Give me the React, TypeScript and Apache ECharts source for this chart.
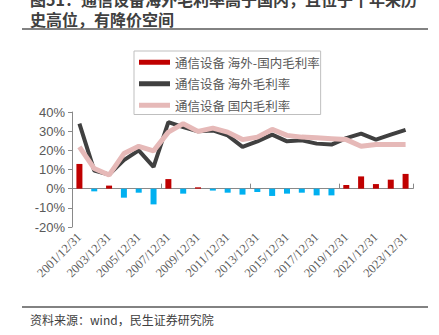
import React, { useEffect, useRef } from "react";
import * as echarts from "echarts";

const categories = [
  "2001/12/31", "2002/12/31", "2003/12/31", "2004/12/31", "2005/12/31", "2006/12/31",
  "2007/12/31", "2008/12/31", "2009/12/31", "2010/12/31", "2011/12/31", "2012/12/31",
  "2013/12/31", "2014/12/31", "2015/12/31", "2016/12/31", "2017/12/31", "2018/12/31",
  "2019/12/31", "2020/12/31", "2021/12/31", "2022/12/31", "2023/12/31",
];
const overseas = [
  33.9, 9.4, 7.4, 14.9, 20.0, 11.4, 34.7, 32.1, 29.9, 30.4, 27.8, 21.8,
  24.7, 28.2, 24.7, 25.2, 23.5, 23.0, 26.4, 28.7, 25.6, 28.2, 30.7,
];
const domestic = [
  21.8, 10.5, 7.1, 18.3, 22.1, 19.7, 29.5, 33.9, 29.9, 31.6, 29.5, 25.6,
  26.9, 30.9, 27.8, 26.9, 26.6, 26.1, 25.6, 22.1, 23.0, 23.0, 23.1,
];
const diff = [
  12.9, -1.4, 1.6, -4.7, -2.1, -8.2, 5.0, -2.6, 0.7, -1.0, -2.1, -3.1,
  -1.7, -3.8, -2.6, -2.1, -3.5, -3.5, 1.9, 6.4, 2.4, 4.7, 7.7,
];
const seriesNames = ["通信设备 海外-国内毛利率", "通信设备 海外毛利率", "通信设备 国内毛利率"];
const titleLines = ["图51：通信设备海外毛利率高于国内，且位于十年来历", "史高位，有降价空间"];
const sourceText = "资料来源：wind，民生证券研究院";

const FONT = "'Noto Sans CJK SC', 'Noto Sans', sans-serif";

export default function App() {
  const ref = useRef<HTMLDivElement>(null);
  useEffect(() => {
    if (!ref.current) return;
    const chart = echarts.init(ref.current, null, { renderer: "svg" });
    chart.setOption({
      animation: false,
      backgroundColor: "#ffffff",
      textStyle: { fontFamily: FONT },
      grid: { left: 72, right: 26, top: 112, bottom: 108, containLabel: false },
      legend: {
        left: 134,
        top: 51,
        orient: "vertical",
        backgroundColor: "#ffffff",
        borderColor: "#bfbfbf",
        borderWidth: 1,
        borderRadius: 0,
        padding: [5, 1, 3, 5],
        itemGap: 9,
        itemWidth: 31,
        itemHeight: 5,
        icon: "rect",
        textStyle: { fontSize: 12.5, color: "#595959", fontFamily: FONT },
        data: seriesNames,
      },
      xAxis: [
        {
          type: "category",
          data: categories,
          boundaryGap: true,
          axisLine: { onZero: true, lineStyle: { color: "#898989", width: 1 } },
          axisTick: { show: true, inside: true, length: 5, lineStyle: { color: "#898989" } },
          axisLabel: { show: false },
          splitLine: { show: false },
        },
        {
          type: "category",
          data: categories,
          position: "bottom",
          boundaryGap: true,
          axisLine: { show: false, onZero: false },
          axisTick: { show: false },
          axisLabel: {
            show: true,
            interval: 1,
            rotate: 45,
            margin: 8,
            fontSize: 12.5,
            color: "#595959",
            fontFamily: "'Liberation Serif', serif",
          },
          splitLine: { show: false },
        },
      ],
      yAxis: {
        type: "value",
        min: -20,
        max: 40,
        interval: 10,
        axisLine: { show: true, lineStyle: { color: "#898989", width: 1 } },
        axisTick: { show: true, length: 4, lineStyle: { color: "#898989" } },
        axisLabel: {
          formatter: "{value}%",
          fontSize: 13,
          color: "#595959",
          margin: 7,
          fontFamily: "'Liberation Sans', sans-serif",
        },
        splitLine: { show: false },
      },
      series: [
        {
          name: seriesNames[0],
          type: "bar",
          xAxisIndex: 0,
          barWidth: 6,
          itemStyle: { color: "#C00000" },
          data: diff.map((v) => ({
            value: v,
            itemStyle: { color: v >= 0 ? "#C00000" : "#00B0F0" },
          })),
        },
        {
          name: seriesNames[1],
          type: "line",
          xAxisIndex: 0,
          symbol: "none",
          itemStyle: { color: "#404040" },
          lineStyle: { color: "#404040", width: 4 },
          data: overseas,
        },
        {
          name: seriesNames[2],
          type: "line",
          xAxisIndex: 0,
          symbol: "none",
          itemStyle: { color: "#E6B9B8" },
          lineStyle: { color: "#E6B9B8", width: 5 },
          data: domestic,
        },
      ],
      graphic: [
        {
          type: "text",
          x: 30,
          y: -11,
          style: {
            text: titleLines.join("\n"),
            fontSize: 16,
            lineHeight: 20,
            fontWeight: "bold",
            fill: "#404040",
            fontFamily: FONT,
            verticalAlign: "top",
          },
        },
        {
          type: "line",
          shape: { x1: 22, y1: 29, x2: 428, y2: 29 },
          style: { stroke: "#595959", lineWidth: 1.5 },
        },
        {
          type: "line",
          shape: { x1: 22, y1: 307, x2: 428, y2: 307 },
          style: { stroke: "#595959", lineWidth: 1.5 },
        },
        {
          type: "text",
          left: 30,
          top: 313,
          style: { text: sourceText, fontSize: 12, fill: "#404040", fontFamily: FONT },
        },
      ],
    });
    return () => chart.dispose();
  }, []);
  return (
    <div
      ref={ref}
      style={{ position: "fixed", left: 0, top: 0, width: 439, height: 335 }}
    />
  );
}
